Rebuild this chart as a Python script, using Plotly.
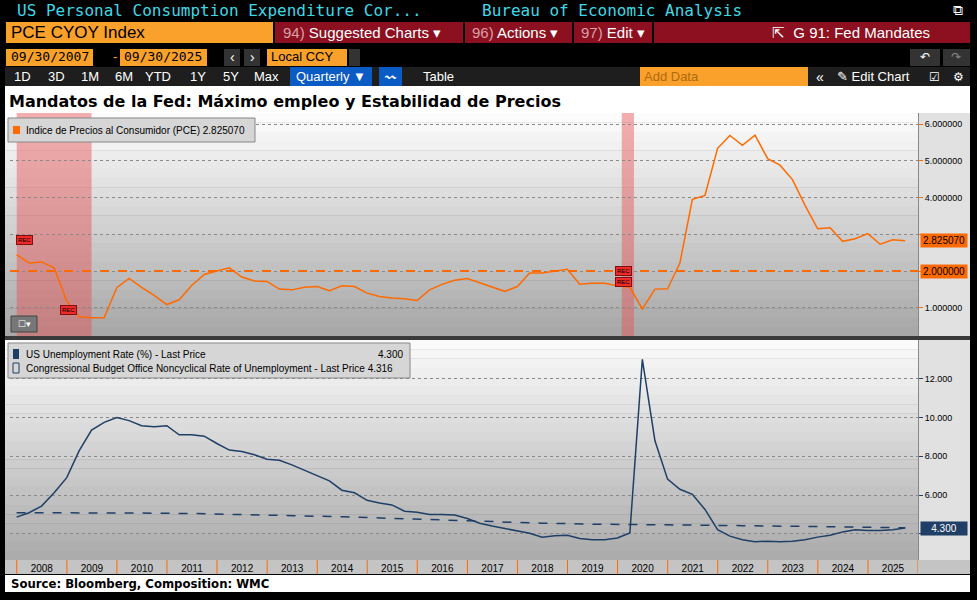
import pandas as pd
import plotly.graph_objects as go

W, H = 977, 600

# quarterly dates 2007Q4 .. 2025Q3
quarters = pd.date_range("2007-12-31", "2025-09-30", freq="QE")

pce = [2.45, 2.22, 2.25, 2.09, 1.18, 0.76, 0.73, 0.73, 1.55, 1.80, 1.56, 1.34,
       1.09, 1.22, 1.61, 1.91, 2.00, 2.09, 1.84, 1.73, 1.72, 1.51, 1.49, 1.56,
       1.58, 1.47, 1.60, 1.58, 1.40, 1.31, 1.27, 1.25, 1.20, 1.49, 1.64, 1.75,
       1.80, 1.69, 1.58, 1.45, 1.58, 1.95, 1.95, 1.99, 2.05, 1.64, 1.67, 1.67,
       1.60, 1.56, 0.97, 1.51, 1.52, 2.22, 3.95, 4.06, 5.34, 5.69, 5.42, 5.70,
       5.06, 4.88, 4.49, 3.79, 3.15, 3.18, 2.81, 2.88, 3.02, 2.73, 2.85, 2.825]

unemp = [4.86, 5.09, 5.43, 6.12, 6.90, 8.28, 9.35, 9.75, 10.0, 9.84, 9.58, 9.53,
         9.58, 9.11, 9.11, 9.04, 8.66, 8.32, 8.25, 8.08, 7.85, 7.80, 7.56, 7.28,
         6.99, 6.73, 6.25, 6.12, 5.73, 5.59, 5.49, 5.17, 5.11, 5.00, 5.00, 4.97,
         4.79, 4.55, 4.40, 4.28, 4.14, 4.03, 3.83, 3.90, 3.93, 3.76, 3.69, 3.69,
         3.79, 4.05, 13.0, 8.80, 6.82, 6.30, 6.04, 5.26, 4.22, 3.88, 3.69, 3.59,
         3.62, 3.59, 3.62, 3.69, 3.83, 3.93, 4.10, 4.21, 4.17, 4.17, 4.21, 4.30]

nairu_dates = ["2007-12-31"] + [f"{y}-06-30" for y in range(2008, 2026)] + ["2025-09-30"]
nairu = [5.09, 5.09, 5.08, 5.07, 5.05, 5.00, 4.95, 4.88, 4.80, 4.72, 4.62, 4.55,
         4.50, 4.46, 4.45, 4.42, 4.40, 4.36, 4.32, 4.316]

recessions = [("2008-01-01", "2009-06-30"), ("2020-02-01", "2020-04-30")]
years = list(range(2008, 2027))

ORANGE = "#ff6a00"
BLUE = "#1f3f66"
FONT = "Liberation Sans Narrow, Liberation Sans, Arial"


def px(x):
    return x / W


def py(y):
    return 1 - y / H


shapes, ann = [], []


def rect(x0, y0, x1, y1, color, line=None, layer="above"):
    shapes.append(dict(type="rect", xref="paper", yref="paper", x0=px(x0), x1=px(x1),
                       y0=py(y1), y1=py(y0), fillcolor=color, layer=layer,
                       line=dict(width=0) if line is None else dict(color=line, width=1)))


def text(x, y, s, color="white", size=13, xanchor="left", family=FONT, bold=False):
    if bold:
        s = "<b>" + s + "</b>"
    ann.append(dict(xref="paper", yref="paper", x=px(x), y=py(y), text=s, showarrow=False,
                    xanchor=xanchor, yanchor="middle", font=dict(color=color, size=size, family=family)))


# header
mono = "DejaVu Sans Mono"
text(15, 10, "US Personal Consumption Expenditure Cor...", "#3fd8e6", 16, family=mono)
text(480, 10, "Bureau of Economic Analysis", "#3fd8e6", 16, family=mono)
text(958, 10, "⧉", "white", 14, "center")
rect(6, 22, 273, 43, "#f9a12a")
text(9, 32, "PCE CYOY Index", "black", 17, family="Liberation Sans")
rect(275, 22, 970, 43, "#8c1020")
for x in [463, 572, 652]:
    rect(x, 22, x + 2, 43, "black")
text(281, 32, "<span style='color:#d9a0a8'>94)</span> Suggested Charts ▾", "white", 15)
text(470, 32, "<span style='color:#d9a0a8'>96)</span> Actions ▾", "white", 15)
text(579, 32, "<span style='color:#d9a0a8'>97)</span> Edit ▾", "white", 15)
text(770, 32, "⇱  G 91: Fed Mandates", "white", 15)
rect(6, 49, 93, 66, "#f9a12a")
text(9, 57, "09/30/2007", "black", 13, family=mono)
rect(120, 49, 207, 66, "#f9a12a")
text(122, 57, "09/30/2025", "black", 13, family=mono)
text(111, 57, "-", "#f9a12a", 13)
rect(224, 49, 240, 66, "#333333")
rect(244, 49, 260, 66, "#333333")
text(232, 57, "‹", "white", 14, "center")
text(252, 57, "›", "white", 14, "center")
rect(267, 49, 347, 66, "#f9a12a")
text(269, 57, "Local CCY", "black", 13)
rect(349, 49, 360, 66, "#333333")
rect(910, 49, 940, 66, "#333333")
rect(943, 49, 970, 66, "#333333")
text(925, 57, "↶", "white", 12, "center")
text(956, 57, "↷", "#888888", 12, "center")
rect(5, 67, 970, 86, "#1e1e1e")
btns = [("1D", 22), ("3D", 56), ("1M", 90), ("6M", 124), ("YTD", 158), ("1Y", 198), ("5Y", 231), ("Max", 266)]
for b, x in btns:
    text(x, 77, b, "white", 13, "center")
rect(290, 67, 372, 86, "#0b5bc4")
text(331, 77, "Quarterly ▼", "white", 13, "center")
rect(379, 67, 402, 86, "#0b5bc4")
text(390, 77, "〰", "white", 11, "center")
text(438, 77, "Table", "white", 13, "center")
rect(640, 67, 808, 86, "#f9a12a")
text(642, 77, "Add Data", "#b06a10", 13)
text(820, 77, "«", "white", 14, "center")
text(873, 77, "✎ Edit Chart", "white", 13, "center")
text(934, 77, "☑", "white", 12, "center")
text(958, 77, "⚙", "white", 12, "center")

# title band
rect(5, 86, 970, 113, "white", layer="below")
text(7, 101, "Mandatos de la Fed: Máximo empleo y Estabilidad de Precios", "black", 16,
     family="DejaVu Sans", bold=True)


# panel gradients
def gradient(y0, y1, c0, c1, n=24):
    for i in range(n):
        t = i / (n - 1)
        c = [int(c0 + (c1 - c0) * t)] * 3
        rect(5, y0 + (y1 - y0) * i / n, 970, y0 + (y1 - y0) * (i + 1) / n + 0.5,
             "rgb(%d,%d,%d)" % tuple(c), layer="below")


gradient(113, 336, 252, 168)
gradient(340, 560, 250, 172)
rect(5, 336, 970, 340, "#3a3a3a")
rect(5, 560, 970, 574, "#c4c4c4", layer="below")
rect(5, 575, 970, 592, "white", layer="below")
text(9, 583, "Source: Bloomberg, Composition: WMC", "black", 13, family="DejaVu Sans Condensed", bold=True)

fig = go.Figure()
fig.add_trace(go.Scatter(x=quarters, y=pce, mode="lines", line=dict(color=ORANGE, width=1.5),
                         xaxis="x", yaxis="y", showlegend=False))
fig.add_trace(go.Scatter(x=quarters, y=unemp, mode="lines", line=dict(color=BLUE, width=1.5),
                         xaxis="x2", yaxis="y2", showlegend=False))
fig.add_trace(go.Scatter(x=pd.to_datetime(nairu_dates), y=nairu, mode="lines",
                         line=dict(color=BLUE, width=1.5, dash="dash"),
                         xaxis="x2", yaxis="y2", showlegend=False))

# recession shading and 2% target
for a, b in recessions:
    shapes.append(dict(type="rect", xref="x", yref="y domain", x0=a, x1=b, y0=0, y1=1,
                       fillcolor="rgba(230,80,80,0.45)", line=dict(width=0), layer="below"))
shapes.append(dict(type="line", xref="paper", yref="y", x0=px(10), x1=px(918), y0=2, y1=2,
                   line=dict(color=ORANGE, width=2, dash="dash")))

# orange year separators in the date strip
for y in years:
    shapes.append(dict(type="line", xref="x2", yref="paper", x0=f"{y}-01-01", x1=f"{y}-01-01",
                       y0=py(574), y1=py(560), line=dict(color=ORANGE, width=1)))

# REC tags
for d, v in [("2008-03-01", 2.85), ("2009-01-15", 0.95), ("2020-02-15", 2.0), ("2020-02-15", 1.7)]:
    ann.append(dict(xref="x", yref="y", x=d, y=v, text="REC", showarrow=False,
                    font=dict(size=6, color="black", family=FONT), bgcolor="#ee2a2a",
                    bordercolor="#801010", borderwidth=1, borderpad=1))


# right value tags
def tag(yref, v, s, bg, fg):
    ann.append(dict(xref="paper", yref=yref, x=px(920), y=v, text=s, showarrow=False, xanchor="left",
                    font=dict(size=10, color=fg, family=FONT), bgcolor=bg, borderpad=1, width=44))


tag("y", 2.825, "2.825070", ORANGE, "black")
tag("y", 2.0, "2.000000", ORANGE, "black")
tag("y2", 4.3, "4.300", BLUE, "white")

# legends
rect(8, 118, 255, 142, "#d6d6d6", line="#888888")
rect(13, 126, 20, 134, ORANGE)
text(24, 130, "Indice de Precios al Consumidor (PCE) 2.825070", "black", 10)
rect(8, 343, 410, 378, "#d6d6d6", line="#888888")
rect(13, 349, 19, 359, BLUE)
text(24, 354, "US Unemployment Rate (%) - Last Price", "black", 10)
text(405, 354, "4.300", "black", 10, "right")
rect(13, 363, 19, 373, "#d6d6d6", line=BLUE)
text(24, 368, "Congressional Budget Office Noncyclical Rate of Unemployment - Last Price 4.316", "black", 10)
rect(11, 316, 37, 332, "#777777", line="#444444")
text(24, 324, "☐▾", "white", 9, "center")

xr = ["2007-11-13", "2026-01-01"]
grid = dict(showgrid=True, gridcolor="#8a8a8a", griddash="dot", gridwidth=1)
fig.update_layout(
    width=W, height=H, margin=dict(l=0, r=0, t=0, b=0),
    paper_bgcolor="black", plot_bgcolor="rgba(0,0,0,0)",
    font=dict(family=FONT, size=10, color="black"),
    annotations=ann,
    xaxis=dict(domain=[px(10), px(918)], range=xr, anchor="y", showticklabels=False,
               showgrid=False, minor=dict(dtick="M24", tick0="2008-01-01", **grid), zeroline=False),
    xaxis2=dict(domain=[px(10), px(918)], range=xr, anchor="y2", dtick="M12", tick0="2008-01-01",
                tickformat="%Y", ticklabelmode="period", ticks="", ticklabelstandoff=1,
                showgrid=False, tickfont=dict(size=10, color="black"),
                minor=dict(dtick="M24", tick0="2008-01-01", **grid)),
    yaxis=dict(domain=[py(336), py(113)], range=[0.235, 6.3], side="right", anchor="x",
               tickvals=[1, 2, 3, 4, 5, 6],
               ticktext=["1.000000", "", "", "4.000000", "5.000000", "6.000000"],
               ticks="outside", tickcolor=ORANGE, ticklen=4,
               tickfont=dict(size=9, color="black"), zeroline=False, **grid,
               showline=True, linecolor="#888888"),
    yaxis2=dict(domain=[py(560), py(340)], range=[2.65, 14.0], side="right", anchor="x2",
                tickvals=[4, 6, 8, 10, 12], ticktext=["", "6.000", "8.000", "10.000", "12.000"],
                ticks="outside", tickcolor=BLUE,
                ticklen=4, tickfont=dict(size=9, color="black"), zeroline=False, **grid,
                showline=True, linecolor="#888888"),
)
rect(918, 113, 970, 560, "rgba(225,225,225,1)", layer="below")
fig.update_layout(shapes=shapes)
fig.write_html("out.html", config={"displayModeBar": False},
               post_script="document.body.style.margin='0';")
